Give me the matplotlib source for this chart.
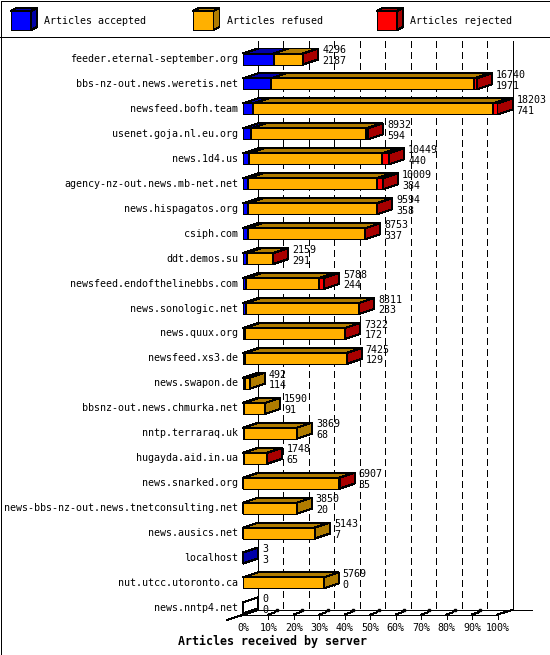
import matplotlib
matplotlib.use('Agg')

import matplotlib.pyplot as plt
from matplotlib.patches import Polygon, Rectangle
from matplotlib.lines import Line2D

# 数据：每个服务器的文章统计
servers = [
    'feeder.eternal-september.org', 'bbs-nz-out.news.weretis.net', 'newsfeed.bofh.team',
    'usenet.goja.nl.eu.org', 'news.1d4.us', 'agency-nz-out.news.mb-net.net',
    'news.hispagatos.org', 'csiph.com', 'ddt.demos.su', 'newsfeed.endofthelinebbs.com',
    'news.sonologic.net', 'news.quux.org', 'newsfeed.xs3.de', 'news.swapon.de',
    'bbsnz-out.news.chmurka.net', 'nntp.terraraq.uk', 'hugayda.aid.in.ua',
    'news.snarked.org', 'news-bbs-nz-out.news.tnetconsulting.net', 'news.ausics.net',
    'localhost', 'nut.utcc.utoronto.ca', 'news.nntp4.net',
]
offered = [4296, 16740, 18203, 8932, 10449, 10009, 9594, 8753, 2159, 5788, 8311, 7322,
           7425, 492, 1590, 3869, 1748, 6907, 3850, 5143, 3, 5769, 0]
accepted = [2187, 1971, 741, 594, 440, 384, 358, 337, 291, 244, 233, 172,
            129, 114, 91, 68, 65, 35, 20, 7, 3, 0, 0]
refused = [2099, 14519, 17112, 8238, 9509, 9175, 9206, 8406, 1853, 5194, 8068, 7135,
           7286, 378, 1499, 3801, 1673, 6852, 3830, 5136, 0, 5769, 0]
rejected = [10, 250, 350, 100, 500, 450, 30, 10, 15, 350, 10, 15,
            10, 0, 0, 0, 10, 20, 0, 0, 0, 0, 0]
legend_labels = ['Articles accepted', 'Articles refused', 'Articles rejected']
tick_labels = ['%d%%' % p for p in range(0, 101, 10)]
xlabel = 'Articles received by server'

front_colors = ['#0000ff', '#ffb000', '#ff0000']
dark_colors = ['#0000a8', '#b07c00', '#a80000']

W, H = 550, 655
FONT = 'DejaVu Sans Mono'
FS = 7.2
LW = 0.72

fig = plt.figure(figsize=(W / 100, H / 100), dpi=100)
ax = fig.add_axes([0, 0, 1, 1])
ax.axis('off')

# 像素与数据坐标的对应关系
x0_px, kx = 243.0, 2.545      # 0% 的位置, 每 1% 的像素数
y0_px, ky = 59.0, 24.95       # 第一行中心, 行距
ax.set_xlim(-x0_px / kx, (W - x0_px) / kx)
ax.set_ylim((H - y0_px) / ky, -y0_px / ky)

DX = 15 / kx                  # 3D 深度 (x)
DY = 5 / ky                   # 3D 深度 (y)
BH = 11 / ky                  # 条形高度


def P(px, py):
    return px / W, 1 - py / H


def fig_line(xs, ys, **kw):
    pts = [P(x, y) for x, y in zip(xs, ys)]
    fig.add_artist(Line2D([p[0] for p in pts], [p[1] for p in pts],
                          color='black', lw=LW, antialiased=False, **kw))


def line(xs, ys, **kw):
    ax.plot(xs, ys, color='black', lw=LW, antialiased=False, zorder=1, **kw)


# 背景网格（后平面）
yb_back = (610 - y0_px) / ky
yt_back = (41 - y0_px) / ky
for p in range(10, 100, 10):
    line([p + DX, p + DX], [yt_back, yb_back], ls=(0, (6, 5)))
for p in (0, 100):
    line([p + DX, p + DX], [yt_back, yb_back])

# 底部坐标轴
y_front = (614.5 - y0_px) / ky
line([0, 100], [y_front, y_front])
line([DX, (532 - x0_px) / kx], [yb_back, yb_back])
line([(227 - x0_px) / kx, DX], [(620 - y0_px) / ky, yb_back])
line([100, 100 + DX], [y_front, yb_back])
for p, lab in zip(range(0, 101, 10), tick_labels):
    if p > 0:
        line([p, p], [y_front, y_front + 4.5 / ky])
        line([p, p + 0.45 * DX], [y_front, y_front - 0.45 * DY])
        if p < 100:
            ax.plot([p + 0.55 * DX], [yb_back + 0.3 / ky], marker='s', ms=2.0,
                    color='black', zorder=1)
    ax.text(p, (628 - y0_px) / ky, lab, ha='center', va='center',
            family=FONT, fontsize=FS)

ax.text((273 - x0_px) / kx, (641 - y0_px) / ky, xlabel, ha='center', va='center',
        family=FONT, fontsize=8.4, fontweight='bold')

# 条形
scale = 100.0 / max(offered)
for i, name in enumerate(servers):
    yc = i
    yt = yc - BH / 2
    yb = yc + BH / 2
    left = 0.0
    segs = [accepted[i], refused[i], rejected[i]]
    for k, v in enumerate(segs):
        w = v * scale
        if v <= 0:
            continue
        ax.add_patch(Rectangle((left, yt), w, BH, fc=front_colors[k], ec='black',
                               lw=LW, antialiased=False, zorder=3))
        ax.add_patch(Polygon([(left, yt), (left + w, yt), (left + w + DX, yt - DY),
                              (left + DX, yt - DY)], closed=True, fc=dark_colors[k],
                             ec='black', lw=LW, antialiased=False, zorder=3))
        ax.add_patch(Polygon([(left + w, yt), (left + w + DX, yt - DY),
                              (left + w + DX, yb - DY), (left + w, yb)], closed=True,
                             fc=dark_colors[k], ec='black', lw=LW, antialiased=False,
                             zorder=3))
        left += w
    if sum(segs) == 0:
        ax.add_patch(Polygon([(0, yt), (DX, yt - DY), (DX, yb - DY), (0, yb)],
                             closed=True, fc='white', ec='black', lw=LW,
                             antialiased=False, zorder=3))
    tx = left + DX + 4 / kx
    ax.text(tx, yc - 8.8 / ky, str(offered[i]), ha='left', va='center',
            family=FONT, fontsize=FS, zorder=4)
    ax.text(tx, yc + 1.9 / ky, str(accepted[i]), ha='left', va='center',
            family=FONT, fontsize=FS, zorder=4)
    ax.text(-5 / kx, yc, name, ha='right', va='center', family=FONT, fontsize=FS)

# 图例
fig_line([0, W], [36.5, 36.5])
leg_x = [10.5, 193, 376.5]
for k, lab in enumerate(legend_labels):
    lx = leg_x[k]
    x1, y1, x2, y2 = lx, 11, lx + 20.5, 30
    d, e = 6, 3
    for poly, c in (([(x1, y1), (x2, y1), (x2, y2), (x1, y2)], front_colors[k]),
                    ([(x1, y1), (x1 + d, y1 - e), (x2 + d, y1 - e), (x2, y1)], dark_colors[k]),
                    ([(x2, y1), (x2 + d, y1 - e), (x2 + d, y2 - e), (x2, y2)], dark_colors[k])):
        fig.add_artist(Polygon([P(a, b) for a, b in poly], closed=True, fc=c,
                               ec='black', lw=LW, antialiased=False,
                               transform=fig.transFigure))
    fx, fy = P(lx + 34, 21)
    fig.text(fx, fy, lab, ha='left', va='center', family=FONT, fontsize=FS)

# 外框
fig_line([0.5, W - 0.5, W - 0.5, 0.5, 0.5], [0.5, 0.5, H - 0.5, H - 0.5, 0.5])

fig.savefig('out.png', dpi=100)
